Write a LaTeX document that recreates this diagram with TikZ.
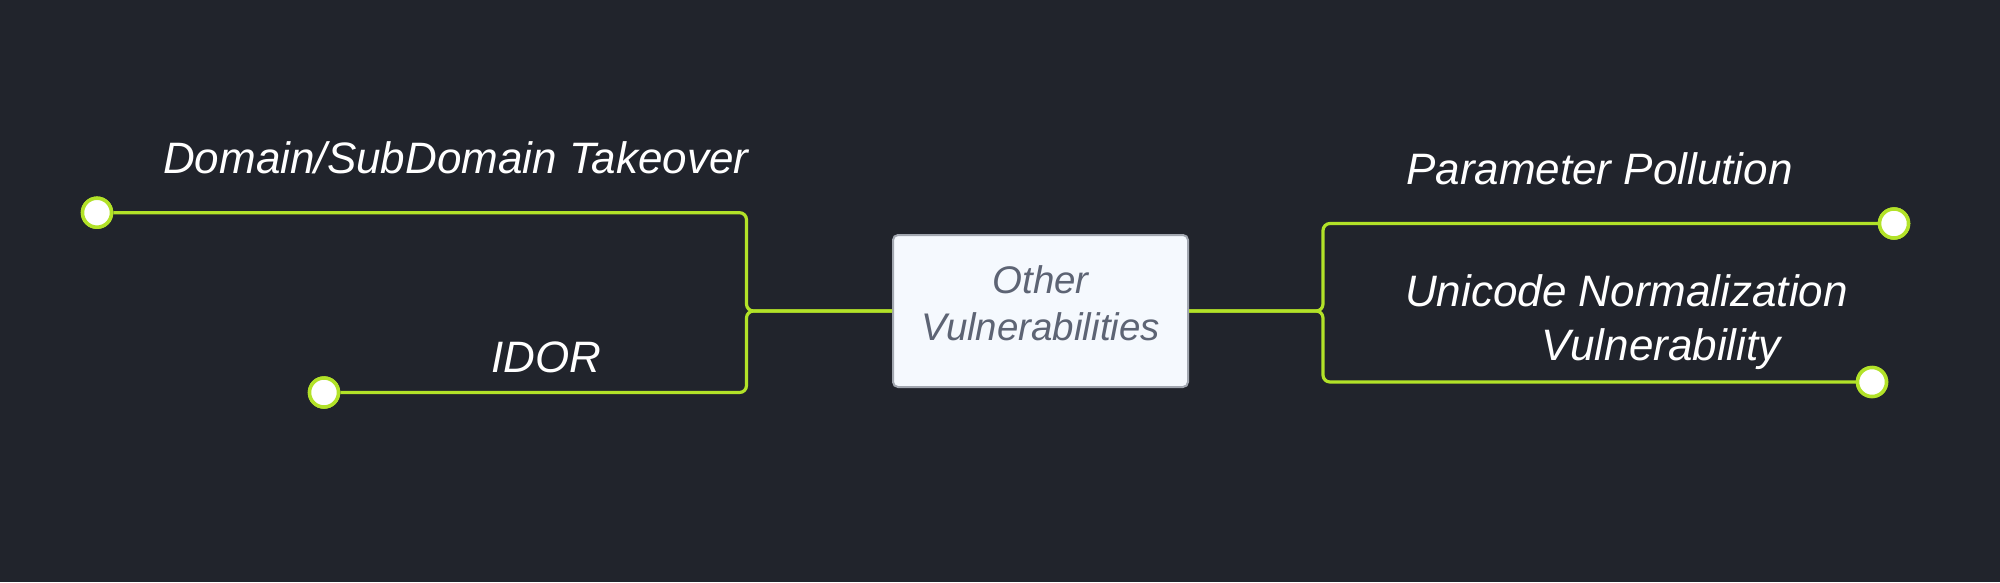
\documentclass[tikz,border=0pt]{standalone}
\usepackage{fontspec}
\setmainfont{Liberation Sans}
\definecolor{bg}{HTML}{21242C}
\definecolor{lime}{HTML}{B2E228}
\definecolor{boxfill}{HTML}{F5F9FE}
\definecolor{boxline}{HTML}{A2A7B0}
\definecolor{boxtext}{HTML}{5D6474}
\tikzset{
  leaf/.style={circle, draw=lime, fill=white, line width=3.5pt, minimum size=29pt, inner sep=0pt},
  branch/.style={draw=lime, line width=3.2pt, rounded corners=7pt},
  label/.style={text=white, inner sep=0pt, font=\itshape\fontsize{44}{54}\selectfont},
  hub/.style={draw=boxline, fill=boxfill, line width=2pt, rounded corners=5pt,
    minimum width=295pt, minimum height=152pt, inner sep=0pt, align=center,
    text height=70pt, text depth=12pt,
    text=boxtext, font=\itshape\fontsize{38.5}{47}\selectfont}
}
\begin{document}
\begin{tikzpicture}[x=1pt,y=-1pt]
\fill[bg] (0,0) rectangle (2000,582);
\useasboundingbox (0,0) rectangle (2000,582);
\node[hub] (hub) at (1040.5,311) {Other\\Vulnerabilities};
\coordinate (jl) at (746.5,311);
\coordinate (jr) at (1323,311);
\node[leaf] (c1) at (97,212.7) {};
\node[leaf] (c2) at (324,392.5) {};
\node[leaf] (c3) at (1894,223.5) {};
\node[leaf] (c4) at (1872,382) {};
\draw[branch] (c1.east) -| (jl) -- (hub.west);
\draw[branch] (c2.east) -| (jl) -- (hub.west);
\draw[branch] (hub.east) -- (jr) |- (c3.west);
\draw[branch] (hub.east) -- (jr) |- (c4.west);
\node[leaf] at (c1) {};
\node[leaf] at (c2) {};
\node[leaf] at (c3) {};
\node[leaf] at (c4) {};
\node[label, anchor=base west] (t1) at (163,173) {Domain/SubDomain Takeover};
\node[label, anchor=base west] (t2) at (491,372.5) {IDOR};
\node[label, anchor=base west] (t3) at (1406,184.3) {Parameter Pollution};
\node[label, anchor=base west, align=left] (t4) at (1405,360) {Unicode Normalization\\\hspace*{136.7pt}Vulnerability};
\end{tikzpicture}
\end{document}
